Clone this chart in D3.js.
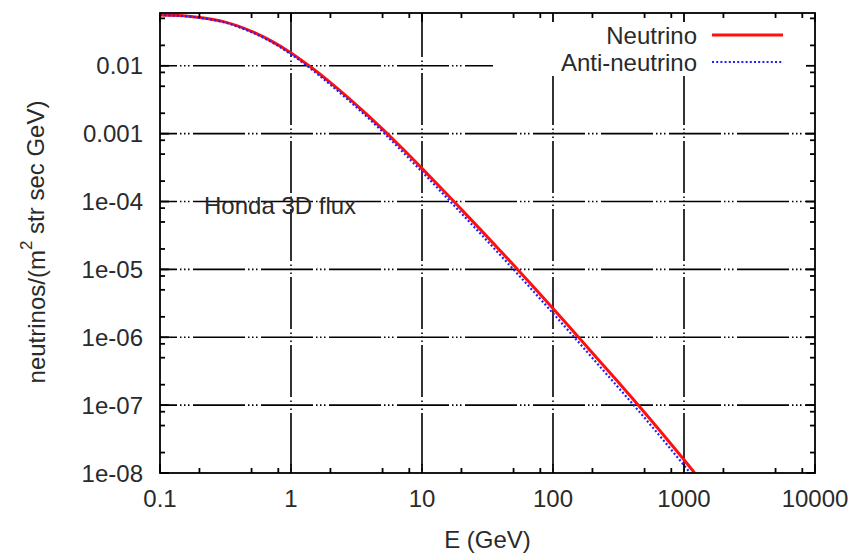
<!DOCTYPE html>
<html>
<head>
<meta charset="utf-8">
<script src="https://cdn.jsdelivr.net/npm/d3@7"></script>
<style>
  html, body { margin: 0; padding: 0; background: #fff; }
  svg { display: block; }
  text { font-family: "Liberation Sans", Arial, Helvetica, sans-serif; fill: #2a2a2a; }
</style>
</head>
<body>
<svg id="chart" width="856" height="556"></svg>
<script>
// ---- data ----
const energies = [0.1, 0.15, 0.2, 0.3, 0.5, 0.7, 1, 1.5, 2, 3, 5, 7, 10, 15, 20, 30, 50, 70, 100, 150, 200, 300, 500, 700, 1000, 1500];
const neutrinoFlux = [0.0562, 0.0547, 0.0516, 0.0452, 0.0322, 0.0235, 0.0155, 0.00881, 0.00564, 0.00290, 0.00117, 0.000619, 0.000308, 0.000137, 7.64e-5, 3.34e-5, 1.16e-5, 5.71e-6, 2.66e-6, 1.10e-6, 5.86e-7, 2.42e-7, 7.78e-8, 3.61e-8, 1.57e-8, 5.93e-9];
const antiNeutrinoFlux = [0.0557, 0.0542, 0.0510, 0.0444, 0.0313, 0.0227, 0.0148, 0.00830, 0.00526, 0.00268, 0.00107, 0.000558, 0.000274, 0.000121, 6.69e-5, 2.90e-5, 9.96e-6, 4.88e-6, 2.26e-6, 9.32e-7, 4.94e-7, 2.03e-7, 6.50e-8, 3.00e-8, 1.30e-8, 4.89e-9];
const xTickValues = [0.1, 1, 10, 100, 1000, 10000];
const xTickLabels = ["0.1", "1", "10", "100", "1000", "10000"];
const yTickValues = [0.01, 0.001, 1e-4, 1e-5, 1e-6, 1e-7, 1e-8];
const yTickLabels = ["0.01", "0.001", "1e-04", "1e-05", "1e-06", "1e-07", "1e-08"];
const seriesNames = ["Neutrino", "Anti-neutrino"];
const xDomain = [0.1, 10000];
const yDomain = [1e-8, 0.06];
const annotation = "Honda 3D flux";

// ---- layout ----
const pL = 160, pR = 815, pT = 13, pB = 473;
const svg = d3.select("#chart");
const x = d3.scaleLog().domain(xDomain).range([pL, pR]);
const y = d3.scaleLog().domain(yDomain).range([pB, pT]);

// minor tick values (2, 5, 8 per decade as visible)
const xMinor = [], yMinor = [];
for (let p = -1; p < 4; p++) [2, 5, 8].forEach(m => xMinor.push(m * Math.pow(10, p)));
for (let p = -8; p < -1; p++) [2, 5, 8].forEach(m => { const v = m * Math.pow(10, p); if (v <= yDomain[1]) yMinor.push(v); });

// ---- grid ----
const gridDash = "52,3,1.5,2.5,1.5,2.5,1.5,3.5";
const grid = svg.append("g");
grid.selectAll("line.gx").data(xTickValues.slice(1, -1)).join("line")
  .attr("x1", d => x(d)).attr("x2", d => x(d)).attr("y1", pB).attr("y2", pT)
  .attr("stroke", "#000").attr("stroke-width", 1.6).attr("stroke-dasharray", gridDash).attr("stroke-dashoffset", 60);
grid.selectAll("line.gy").data(yTickValues.slice(0, -1)).join("line")
  .attr("x1", pL).attr("x2", pR).attr("y1", d => y(d)).attr("y2", d => y(d))
  .attr("stroke", "#000").attr("stroke-width", 1.6).attr("stroke-dasharray", gridDash).attr("stroke-dashoffset", 35);

// ---- legend background (opaque key) ----
svg.append("rect").attr("x", 493).attr("y", pT + 1).attr("width", pR - 493 - 1).attr("height", 62).attr("fill", "#fff");

// ---- annotation ----
svg.append("text").attr("x", 204).attr("y", 205).attr("dy", "0.36em")
  .attr("font-size", 24).text(annotation);

// ---- curves ----
svg.append("clipPath").attr("id", "clip").append("rect")
  .attr("x", pL).attr("y", pT).attr("width", pR - pL).attr("height", pB - pT);
const line = d3.line().x(d => x(d[0])).y(d => y(d[1])).curve(d3.curveMonotoneX);
const antiData = energies.map((e, i) => [e, antiNeutrinoFlux[i]]);
const nuData = energies.map((e, i) => [e, neutrinoFlux[i]]);
const curves = svg.append("g").attr("clip-path", "url(#clip)");
curves.append("path").datum(nuData).attr("d", line)
  .attr("fill", "none").attr("stroke", "#ff1010").attr("stroke-width", 3);
curves.append("path").datum(antiData).attr("d", line)
  .attr("fill", "none").attr("stroke", "#2020ff").attr("stroke-width", 2.2).attr("stroke-dasharray", "2,2.2");

// ---- frame and ticks ----
const ax = svg.append("g").attr("stroke", "#000").attr("stroke-width", 1.8);
ax.append("rect").attr("x", pL).attr("y", pT).attr("width", pR - pL).attr("height", pB - pT).attr("fill", "none");
const tickMaj = 9, tickMin = 5;
xTickValues.forEach(v => {
  ax.append("line").attr("x1", x(v)).attr("x2", x(v)).attr("y1", pB).attr("y2", pB - tickMaj);
  ax.append("line").attr("x1", x(v)).attr("x2", x(v)).attr("y1", pT).attr("y2", pT + tickMaj);
});
xMinor.forEach(v => {
  ax.append("line").attr("x1", x(v)).attr("x2", x(v)).attr("y1", pB).attr("y2", pB - tickMin);
  ax.append("line").attr("x1", x(v)).attr("x2", x(v)).attr("y1", pT).attr("y2", pT + tickMin);
});
yTickValues.forEach(v => {
  ax.append("line").attr("x1", pL).attr("x2", pL + tickMaj).attr("y1", y(v)).attr("y2", y(v));
  ax.append("line").attr("x1", pR).attr("x2", pR - tickMaj).attr("y1", y(v)).attr("y2", y(v));
});
yMinor.forEach(v => {
  ax.append("line").attr("x1", pL).attr("x2", pL + tickMin).attr("y1", y(v)).attr("y2", y(v));
  ax.append("line").attr("x1", pR).attr("x2", pR - tickMin).attr("y1", y(v)).attr("y2", y(v));
});

// ---- tick labels ----
svg.append("g").selectAll("text").data(xTickValues).join("text")
  .attr("x", d => x(d)).attr("y", 498).attr("dy", "0.36em").attr("text-anchor", "middle")
  .attr("font-size", 24).text((d, i) => xTickLabels[i]);
svg.append("g").selectAll("text").data(yTickValues).join("text")
  .attr("x", 143).attr("y", d => y(d)).attr("dy", "0.36em").attr("text-anchor", "end")
  .attr("font-size", 24).text((d, i) => yTickLabels[i]);

// ---- axis titles ----
svg.append("text").attr("x", (pL + pR) / 2).attr("y", 539).attr("dy", "0.36em")
  .attr("text-anchor", "middle").attr("font-size", 24).text("E (GeV)");
const yt = svg.append("text").attr("transform", "translate(36,242) rotate(-90)")
  .attr("text-anchor", "middle").attr("dy", "0.36em").attr("font-size", 24);
yt.append("tspan").text("neutrinos/(m");
yt.append("tspan").attr("font-size", 17).attr("dy", "-0.75em").text("2");
yt.append("tspan").attr("dy", "0.5em").text(" str sec GeV)");

// ---- legend ----
const legendY = [35, 62];
svg.append("g").selectAll("text").data(seriesNames).join("text")
  .attr("x", 697).attr("y", (d, i) => legendY[i]).attr("dy", "0.36em").attr("text-anchor", "end")
  .attr("font-size", 24).text(d => d);
svg.append("line").attr("x1", 712).attr("x2", 783).attr("y1", legendY[0]).attr("y2", legendY[0])
  .attr("stroke", "#ff1010").attr("stroke-width", 3);
svg.append("line").attr("x1", 712).attr("x2", 783).attr("y1", legendY[1]).attr("y2", legendY[1])
  .attr("stroke", "#2020ff").attr("stroke-width", 2.2).attr("stroke-dasharray", "2,2.2");
</script>
</body>
</html>
